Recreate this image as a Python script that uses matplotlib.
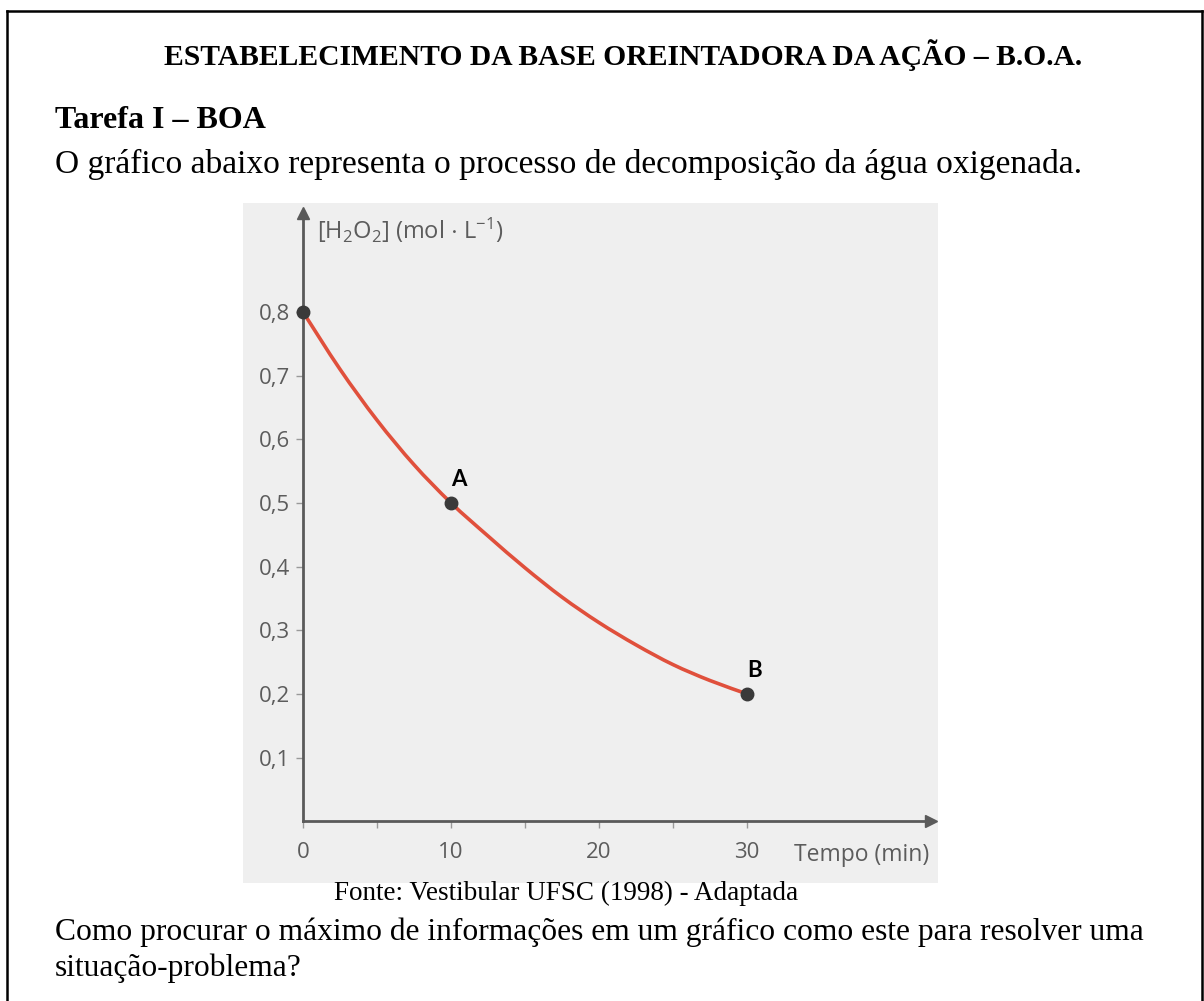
import numpy as np
import matplotlib.pyplot as plt
from matplotlib.lines import Line2D
from matplotlib.path import Path
from matplotlib.patches import PathPatch

# data
tempo = [0, 2.5, 5, 7.5, 10, 12.5, 15, 17.5, 20, 22.5, 25, 27.5, 30]
conc = [0.80, 0.71, 0.63, 0.56, 0.50, 0.448, 0.398, 0.352, 0.312, 0.277, 0.246, 0.221, 0.20]
pontos_t = [0, 10, 30]
pontos_c = [0.80, 0.50, 0.20]
pontos_nome = ["", "A", "B"]
y_ticks = [0.1, 0.2, 0.3, 0.4, 0.5, 0.6, 0.7, 0.8]
y_labels = ["0,1", "0,2", "0,3", "0,4", "0,5", "0,6", "0,7", "0,8"]
x_ticks = [0, 10, 20, 30]
x_minor = [5, 15, 25]

W, H = 1204, 1001
fig = plt.figure(figsize=(W / 100, H / 100), dpi=100)
plt.rcParams["mathtext.default"] = "regular"


def fx(px):
    return px / W


def fy(py):
    return 1 - py / H


serif = "Liberation Serif"

# border (box is cut at the bottom of the page)
for xs, ys in [([7, 7], [11, H]), ([7, 1202], [11, 11]), ([1202, 1202], [11, H])]:
    fig.add_artist(Line2D([fx(x) for x in xs], [fy(y) for y in ys],
                          color="black", lw=1.8))

fig.text(fx(623), fy(65), "ESTABELECIMENTO DA BASE OREINTADORA DA AÇÃO – B.O.A.",
         family=serif, weight="bold", fontsize=21.3, ha="center", va="baseline")
fig.text(fx(55), fy(128), "Tarefa I – BOA", family=serif, weight="bold",
         fontsize=23, ha="left", va="baseline")
fig.text(fx(55), fy(173), "O gráfico abaixo representa o processo de decomposição da água oxigenada.",
         family=serif, fontsize=24.1, ha="left", va="baseline")
fig.text(fx(566), fy(900), "Fonte: Vestibular UFSC (1998) - Adaptada",
         family=serif, fontsize=19.5, ha="center", va="baseline")
fig.text(fx(55), fy(940), "Como procurar o máximo de informações em um gráfico como este para resolver uma",
         family=serif, fontsize=22.7, ha="left", va="baseline")
fig.text(fx(55), fy(976), "situação-problema?", family=serif, fontsize=22.7,
         ha="left", va="baseline")

# chart: scanned grey panel
left, right, top, bottom = 243, 938, 203, 883
ax = fig.add_axes([fx(left), fy(bottom), fx(right - left), (bottom - top) / H])
ax.set_facecolor("#efefef")
ax.set_xlim(-4.05, 42.9)
ax.set_ylim(-0.097, 0.971)

for s in ["top", "right"]:
    ax.spines[s].set_visible(False)
axis_col = "#5a5a5a"
ax.spines["left"].set_position(("data", 0))
ax.spines["bottom"].set_position(("data", 0))
ax.spines["left"].set_bounds(0, 0.945)
ax.spines["bottom"].set_bounds(0, 42.0)
for s in ["left", "bottom"]:
    ax.spines[s].set_color(axis_col)
    ax.spines[s].set_linewidth(2)
ax.plot([0], [0.955], marker="^", color=axis_col, ms=8, clip_on=False)
ax.plot([42.4], [0], marker=">", color=axis_col, ms=8, clip_on=False)

lab_font = "Open Sans"
lab_col = "#5c5c5c"
ax.set_yticks(y_ticks)
ax.set_yticklabels(y_labels, family=lab_font, fontsize=16, color=lab_col)
ax.set_xticks(x_ticks)
ax.set_xticklabels([str(t) for t in x_ticks], family=lab_font, fontsize=16,
                   color=lab_col)
ax.set_xticks(x_minor, minor=True)
ax.tick_params(axis="y", direction="out", length=5, width=1, color="#999999", pad=4)
ax.tick_params(axis="x", which="both", direction="out", length=5, width=1,
               color="#999999", pad=10)

ax.text(33.2, -0.053, "Tempo (min)", family=lab_font, fontsize=16.5,
        color=lab_col, ha="left", va="center")
ax.text(0.95, 0.928, r"[H$_2$O$_2$] (mol $\cdot$ L$^{-1}$)", family=lab_font,
        fontsize=17, color=lab_col, ha="left", va="center")

# smooth curve through the read points (Catmull-Rom as cubic Bezier)
pts = np.column_stack([tempo, conc])
ext = np.vstack([pts[0], pts, pts[-1]])
verts = [tuple(pts[0])]
codes = [Path.MOVETO]
for i in range(1, len(ext) - 2):
    p0, p1, p2, p3 = ext[i - 1], ext[i], ext[i + 1], ext[i + 2]
    verts += [tuple(p1 + (p2 - p0) / 6), tuple(p2 - (p3 - p1) / 6), tuple(p2)]
    codes += [Path.CURVE4] * 3
ax.add_patch(PathPatch(Path(verts, codes), fill=False, edgecolor="#e0503c",
                       lw=2.6, capstyle="round"))

ax.plot(pontos_t, pontos_c, "o", color="#3a3a3a", ms=9, clip_on=False, zorder=5)
for t, c, nome in zip(pontos_t, pontos_c, pontos_nome):
    if nome:
        ax.text(t + 0.5, c + 0.036, nome, family="Lato", weight="bold",
                fontsize=16, color="black", ha="center", va="center")

fig.savefig("out.png", dpi=100)
